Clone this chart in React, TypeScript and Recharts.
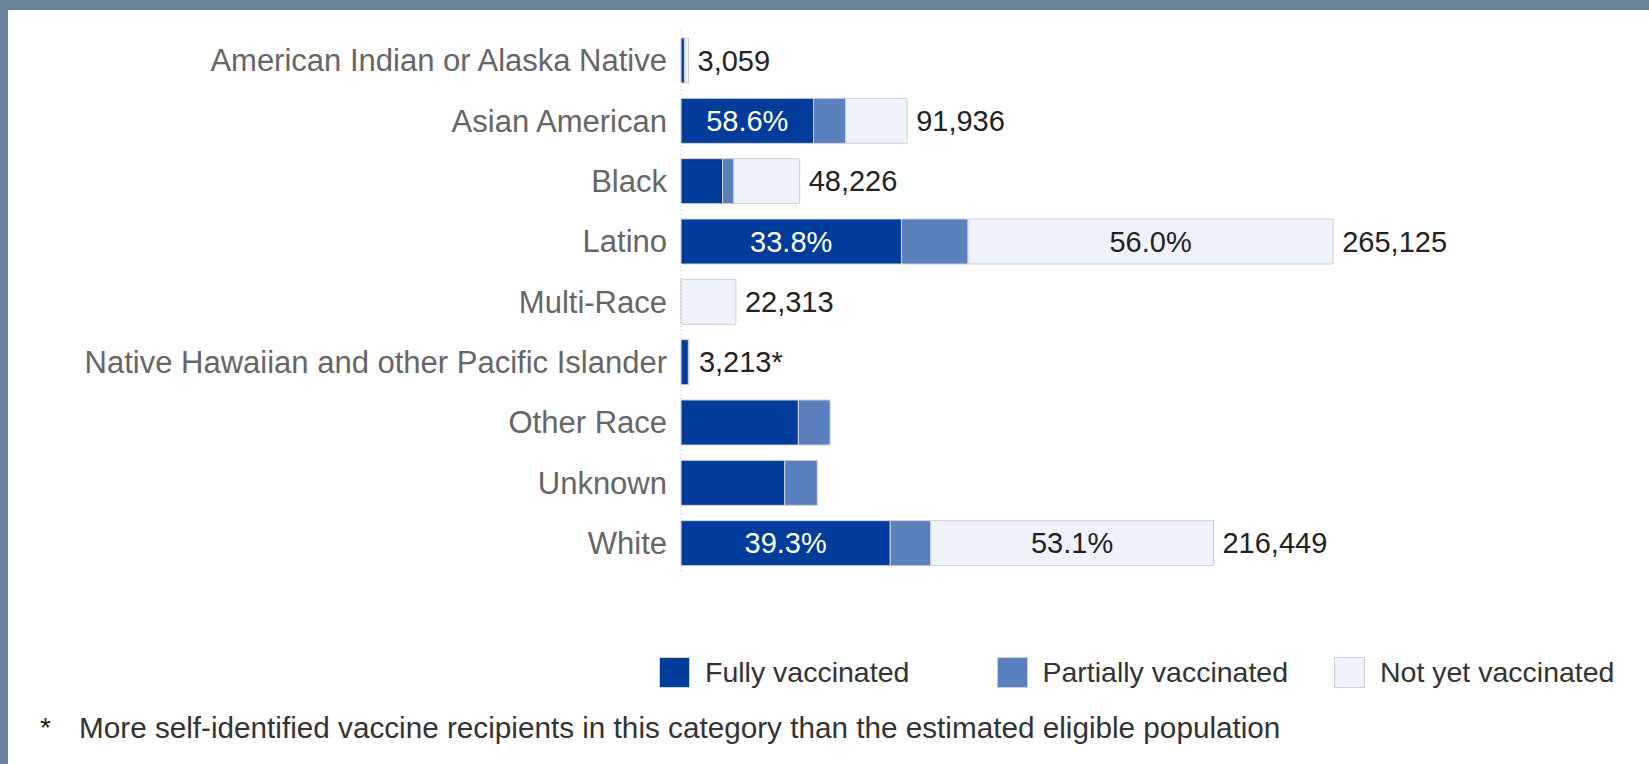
import { BarChart, Bar, XAxis, YAxis, LabelList } from 'recharts';

const categories = [
  'American Indian or Alaska Native',
  'Asian American',
  'Black',
  'Latino',
  'Multi-Race',
  'Native Hawaiian and other Pacific Islander',
  'Other Race',
  'Unknown',
  'White',
];

// people per race group
const fully = [1400, 53875, 16900, 89612, 0, 3000, 47700, 42150, 85064];
const partial = [200, 13100, 4600, 27043, 0, 213, 12900, 13250, 16450];
const notYet = [1459, 24961, 26726, 148470, 22313, 0, 0, 0, 114935];

const fullyPct = ['', '58.6%', '', '33.8%', '', '', '', '', '39.3%'];
const notYetPct = ['', '', '', '56.0%', '', '', '', '', '53.1%'];
const totals = ['3,059', '91,936', '48,226', '265,125', '22,313', '3,213*', '', '', '216,449'];

const seriesNames = ['Fully vaccinated', 'Partially vaccinated', 'Not yet vaccinated'];
const COLORS = ['#003c9c', '#5a80be', '#eef3fb'];
const STROKE = '#cfcfcf';
const FONT = '"Liberation Sans", Arial, sans-serif';

// total sits after the last non-empty segment of the stack
const data = categories.map((name, i) => ({
  name,
  fully: fully[i],
  partial: partial[i],
  notYet: notYet[i],
  fullyPct: fullyPct[i],
  notYetPct: notYetPct[i],
  totalEnd: notYet[i] > 0 ? totals[i] : '',
  totalMid: notYet[i] > 0 ? '' : totals[i],
}));

const valueLabel = { fill: '#222', fontSize: 29, fontFamily: FONT };

export default function App() {
  return (
    <div style={{ position: 'relative', width: 1649, height: 764, background: '#fff', fontFamily: FONT }}>
      <style>{`body{margin:0}`}</style>
      <div style={{ position: 'absolute', left: 0, top: 0, width: 1649, height: 10, background: '#6b8399' }} />
      <div style={{ position: 'absolute', left: 0, top: 0, width: 8, height: 764, background: '#6b8399' }} />

      <div style={{ position: 'absolute', left: 0, top: 0 }}>
        <BarChart
          layout="vertical"
          width={1649}
          height={600}
          data={data}
          margin={{ top: 30, right: 230, bottom: 27, left: 0 }}
          barSize={45}
        >
          <XAxis type="number" domain={[0, 300000]} hide />
          <YAxis
            type="category"
            dataKey="name"
            width={681}
            tickLine={false}
            tickMargin={8}
            axisLine={{ stroke: '#bdbdbd', strokeDasharray: '1 3' }}
            tick={{ fontSize: 31, fill: '#666', fontFamily: FONT }}
            interval={0}
          />
          <Bar dataKey="fully" stackId="a" fill={COLORS[0]} stroke={STROKE} isAnimationActive={false}>
            <LabelList dataKey="fullyPct" position="center" fill="#fff" fontSize={29} fontFamily={FONT} />
          </Bar>
          <Bar dataKey="partial" stackId="a" fill={COLORS[1]} stroke={STROKE} isAnimationActive={false}>
            <LabelList dataKey="totalMid" position="right" offset={10} {...valueLabel} />
          </Bar>
          <Bar dataKey="notYet" stackId="a" fill={COLORS[2]} stroke={STROKE} isAnimationActive={false}>
            <LabelList dataKey="notYetPct" position="center" {...valueLabel} />
            <LabelList dataKey="totalEnd" position="right" offset={9} {...valueLabel} />
          </Bar>
        </BarChart>
      </div>

      <div style={{ position: 'absolute', left: 659, top: 657, display: 'flex' }}>
        {seriesNames.map((s, i) => (
          <div key={s} style={{ width: 337.5, display: 'flex', alignItems: 'center', height: 31 }}>
            <span
              style={{
                width: 29,
                height: 29,
                background: COLORS[i],
                border: `1px solid ${STROKE}`,
                marginRight: 15,
                flex: 'none',
              }}
            />
            <span style={{ fontSize: 28.5, color: '#333', whiteSpace: 'nowrap' }}>{s}</span>
          </div>
        ))}
      </div>

      <div style={{ position: 'absolute', left: 40, top: 712, fontSize: 28, color: '#222', whiteSpace: 'nowrap' }}>*</div>
      <div style={{ position: 'absolute', left: 79, top: 711, fontSize: 29.7, color: '#333', whiteSpace: 'nowrap' }}>
        More self-identified vaccine recipients in this category than the estimated eligible population
      </div>
    </div>
  );
}
